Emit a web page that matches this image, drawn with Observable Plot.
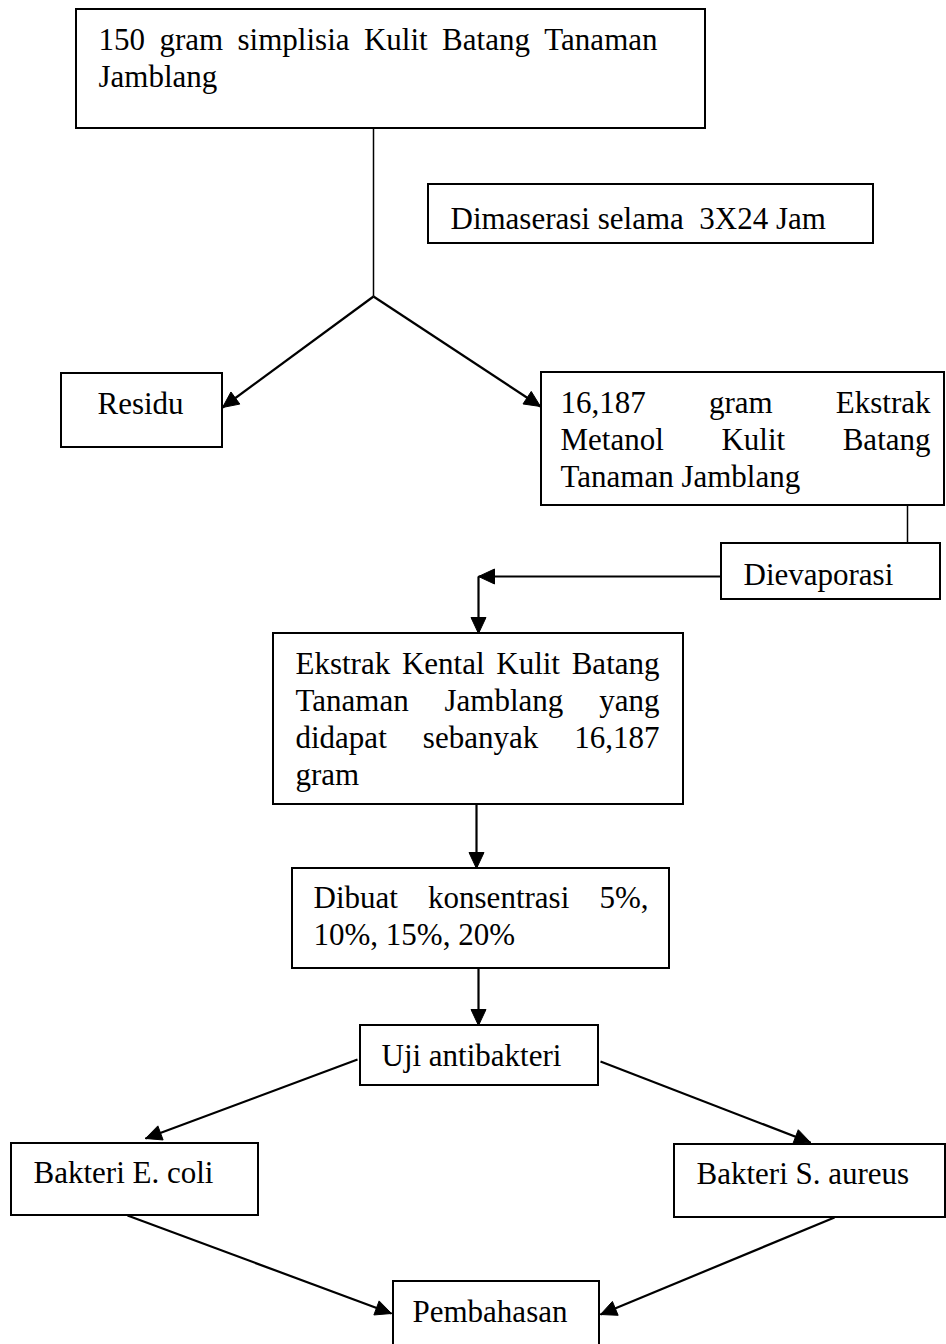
<!DOCTYPE html>
<html><head><meta charset="utf-8">
<script src="https://cdn.jsdelivr.net/npm/d3@7"></script>
<script src="https://cdn.jsdelivr.net/npm/@observablehq/plot@0.6"></script>
<style>body{margin:0;background:#fff;overflow:hidden} svg text{white-space:pre}</style>
</head><body><div id="chart"></div>
<script>
// ---- content ----
const boxLines = [
  ["150 gram simplisia Kulit Batang Tanaman", "Jamblang"],
  ["Dimaserasi selama  3X24 Jam"],
  ["Residu"],
  ["16,187 gram Ekstrak", "Metanol Kulit Batang", "Tanaman Jamblang"],
  ["Dievaporasi"],
  ["Ekstrak Kental Kulit Batang", "Tanaman Jamblang yang", "didapat sebanyak 16,187", "gram"],
  ["Dibuat konsentrasi 5%,", "10%, 15%, 20%"],
  ["Uji antibakteri"],
  ["Bakteri E. coli"],
  ["Bakteri S. aureus"],
  ["Pembahasan"]
];
const justified = [
  [true, false], [false], [false], [true, true, false], [false],
  [true, true, true, false], [true, false], [false], [false], [false], [false]
];
// ---- layout (pixels) ----
const boxLeft   = [76, 428, 61, 541, 721, 273, 292, 360, 11, 674, 393];
const boxRight  = [705, 873, 222, 944, 940, 683, 669, 598, 258, 945, 599];
const boxTop    = [9, 184, 373, 372, 543, 633, 868, 1025, 1143, 1144, 1281];
const boxBottom = [128, 243, 447, 505, 599, 804, 968, 1085, 1215, 1217, 1350];
const textLeft  = [98, 450, 97, 560, 743, 295, 313, 381, 33, 696, 412];
const textRight = [657, 873, 222, 930, 940, 659, 648, 598, 258, 945, 599];
const firstBaseline = [49, 228, 413, 412, 584, 673, 907, 1065, 1182, 1183, 1321];
const lineStep = 37;
const fontSize = 31;
// connectors: [x1, y1, x2, y2, arrowhead, width]
const edges = [
  [373, 128, 373, 296, false, 1.5],
  [373, 296, 222, 407, true, 2.2],
  [373, 296, 540, 406, true, 2.2],
  [907, 505, 907, 543, false, 1.5],
  [721, 576, 478, 576, true, 2.2],
  [478, 576, 478, 633, true, 2.2],
  [476, 804, 476, 868, true, 2.2],
  [478, 968, 478, 1025, true, 2.2],
  [357, 1059, 145, 1138, true, 2.2],
  [600, 1061, 810, 1142, true, 2.2],
  [127, 1215, 391, 1313, true, 2.2],
  [834, 1217, 600, 1314, true, 2.2]
];

// ---- build tables ----
const boxes = boxLines.map((l, i) => ({x1: boxLeft[i], x2: boxRight[i], y1: boxTop[i], y2: boxBottom[i]}));
const ctx = document.createElement("canvas").getContext("2d");
ctx.font = `${fontSize}px "Liberation Serif"`;
const words = [];
boxLines.forEach((lines, i) => {
  lines.forEach((line, j) => {
    const y = firstBaseline[i] + j * lineStep;
    if (justified[i][j]) {
      const ws = line.split(" ");
      const widths = ws.map(w => ctx.measureText(w).width);
      const total = d3.sum(widths);
      const gap = Math.max(ctx.measureText(" ").width, (textRight[i] - textLeft[i] - total) / (ws.length - 1));
      let x = textLeft[i];
      ws.forEach((w, k) => { words.push({x, y, text: w}); x += widths[k] + gap; });
    } else {
      words.push({x: textLeft[i], y, text: line});
    }
  });
});
const links = edges.map(([x1, y1, x2, y2, head, w]) => ({x1, y1, x2, y2, head, w}));
const heads = [];
links.filter(d => d.head).forEach((d, k) => {
  const dx = d.x2 - d.x1, dy = d.y2 - d.y1, L = Math.hypot(dx, dy);
  const ux = dx / L, uy = dy / L, len = 16, hw = 7.5;
  const bx = d.x2 - ux * len, by = d.y2 - uy * len;
  heads.push({id: k, x: d.x2, y: d.y2});
  heads.push({id: k, x: bx - uy * hw, y: by + ux * hw});
  heads.push({id: k, x: bx + uy * hw, y: by - ux * hw});
  heads.push({id: k, x: d.x2, y: d.y2});
});

const chart = Plot.plot({
  width: 946, height: 1344, margin: 0,
  style: {fontFamily: '"Liberation Serif", "Times New Roman", serif', background: "#fff"},
  x: {domain: [0, 946], range: [0, 946], axis: null},
  y: {domain: [0, 1344], range: [0, 1344], axis: null},
  marks: [
    Plot.rect(boxes, {x1: "x1", x2: "x2", y1: "y1", y2: "y2", fill: "white", stroke: "black", strokeWidth: 2}),
    Plot.link(links, {x1: "x1", y1: "y1", x2: "x2", y2: "y2", stroke: "black", strokeWidth: "w"}),
    Plot.line(heads, {x: "x", y: "y", z: "id", fill: "black", stroke: "black", strokeWidth: 1}),
    Plot.text(words, {x: "x", y: "y", text: "text", textAnchor: "start", lineAnchor: "bottom", fontSize: fontSize, fill: "black"})
  ]
});
document.getElementById("chart").appendChild(chart);
</script>
</body></html>
